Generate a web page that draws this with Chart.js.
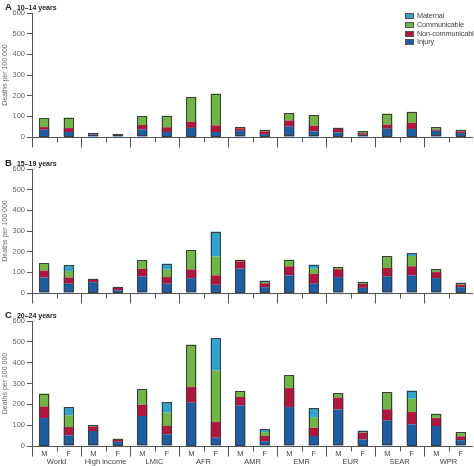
<!DOCTYPE html>
<html>
<head>
<meta charset="utf-8">
<script src="https://cdn.jsdelivr.net/npm/chart.js@4.4.1/dist/chart.umd.min.js"></script>
<style>
  body { margin: 0; background: #fff; font-family: 'Liberation Sans Narrow', 'Liberation Sans', sans-serif; }
  #wrap { position: relative; width: 474px; height: 466px; overflow: hidden; }
  .panel { position: absolute; left: 0; width: 474px; }
  .ttl { position: absolute; left: 5px; color: #222; font-weight: bold; white-space: nowrap; line-height: 9px; height: 9px; z-index: 2; }
  .ttl b { font-size: 9.5px; margin-right: 5px; }
  .ttl span { font-size: 7px; }
  #legend { position: absolute; left: 405px; top: 12px; font-size: 7.3px; color: #444; letter-spacing: -0.15px; }
  #legend div { height: 8.8px; line-height: 8.8px; white-space: nowrap; }
  #legend i { display: inline-block; width: 9px; height: 6px; border: 1px solid #555; margin-right: 3px; vertical-align: -1px; box-sizing: border-box; }
</style>
</head>
<body>
<div id="wrap">
  <div class="ttl" style="top:0px"><b>A</b><span>10–14 years</span></div>
  <div class="ttl" style="top:156px"><b>B</b><span>15–19 years</span></div>
  <div class="ttl" style="top:308px"><b>C</b><span>20–24 years</span></div>
  <div class="panel" style="top:0px;height:150px"><canvas id="chartA"></canvas></div>
  <div class="panel" style="top:156px;height:150px"><canvas id="chartB"></canvas></div>
  <div class="panel" style="top:308px;height:158px"><canvas id="chartC"></canvas></div>
  <div id="legend"></div>
</div>
<script>
// categories
const groups = ['World', 'High income', 'LMIC', 'AFR', 'AMR', 'EMR', 'EUR', 'SEAR', 'WPR'];
const sexes = ['M', 'F', 'M', 'F', 'M', 'F', 'M', 'F', 'M', 'F', 'M', 'F', 'M', 'F', 'M', 'F', 'M', 'F'];
const yTicks = [0, 100, 200, 300, 400, 500, 600];

// A: 10-14 years (deaths per 100 000)
const injuryA = [35, 24, 12, 7, 37, 24, 44, 24, 30, 14, 51, 27, 22, 11, 40, 39, 30, 19];
const ncdA = [13, 19, 6, 5, 21, 23, 30, 32, 12, 13, 29, 28, 18, 8, 20, 29, 6, 8];
const commA = [44, 51, 1, 1, 42, 56, 120, 154, 6, 8, 36, 50, 5, 8, 53, 54, 12, 8];
const maternalA = [0, 0, 0, 0, 0, 0, 0, 0, 0, 0, 0, 0, 0, 0, 0, 0, 0, 0];

// B: 15-19 years
const injuryB = [75, 45, 52, 13, 80, 45, 72, 40, 118, 28, 85, 45, 77, 25, 80, 85, 72, 28];
const ncdB = [33, 30, 14, 12, 37, 32, 42, 45, 35, 19, 44, 48, 38, 19, 41, 44, 29, 12];
const commB = [37, 31, 3, 5, 41, 36, 92, 92, 8, 8, 32, 24, 10, 10, 58, 50, 13, 8];
const maternalB = [0, 28, 0, 0, 0, 29, 0, 120, 0, 5, 0, 20, 0, 0, 0, 14, 0, 2];

// C: 20-24 years
const injuryC = [134, 51, 72, 20, 144, 56, 208, 40, 195, 23, 187, 48, 175, 31, 123, 104, 96, 28];
const ncdC = [56, 40, 22, 10, 54, 40, 75, 75, 40, 25, 91, 40, 57, 33, 53, 59, 38, 18];
const commC = [62, 56, 5, 5, 74, 64, 204, 248, 29, 19, 61, 48, 22, 8, 83, 64, 21, 16];
const maternalC = [0, 40, 0, 0, 0, 51, 0, 155, 0, 13, 0, 45, 0, 2, 0, 39, 0, 5];

const seriesNames = ['Injury', 'Non-communicable', 'Communicable', 'Maternal'];
const colors = ['#1b5ea6', '#b5143f', '#70b644', '#2ea4cf'];
const axisColor = '#555';
const font = "'Liberation Sans Narrow', 'Liberation Sans', sans-serif";

// legend (top one is Maternal)
const legend = document.getElementById('legend');
for (let i = seriesNames.length - 1; i >= 0; i--) {
  const row = document.createElement('div');
  row.innerHTML = `<i style="background:${colors[i]}"></i>${seriesNames[i]}`;
  legend.appendChild(row);
}

// tick marks under the x axis: short between M and F, long between groups
const xTickMarks = {
  id: 'xTickMarks',
  afterDraw(chart) {
    const xs = chart.scales.x;
    const ctx = chart.ctx;
    const n = sexes.length;
    const y0 = Math.round(chart.chartArea.bottom) + 0.5;
    ctx.save();
    ctx.strokeStyle = axisColor;
    ctx.lineWidth = 1;
    ctx.beginPath();
    ctx.moveTo(xs.left, y0);
    ctx.lineTo(xs.right, y0);
    for (let i = 0; i < n; i++) {
      const px = Math.round(xs.left + i * xs.width / n) + 0.5;
      ctx.moveTo(px, y0);
      ctx.lineTo(px, y0 + (i % 2 === 0 ? 10 : 5));
    }
    ctx.stroke();
    ctx.restore();
  }
};

// dark outline round each whole stack
const stackOutline = {
  id: 'stackOutline',
  afterDatasetsDraw(chart) {
    const metas = chart.getSortedVisibleDatasetMetas();
    const ctx = chart.ctx;
    ctx.save();
    ctx.strokeStyle = '#3d3d3d';
    ctx.lineWidth = 1;
    for (let i = 0; i < sexes.length; i++) {
      let top = Infinity, bottom = -Infinity, x = 0, w = 0;
      metas.forEach(m => {
        const el = m.data[i];
        if (!el) return;
        top = Math.min(top, el.y, el.base);
        bottom = Math.max(bottom, el.y, el.base);
        x = el.x;
        w = el.width;
      });
      if (bottom - top < 0.5) continue;
      ctx.strokeRect(Math.round(x - w / 2) + 0.5, Math.round(top) + 0.5, Math.round(w) - 1, Math.round(bottom - top) - 1);
    }
    ctx.restore();
  }
};

function makeChart(id, injury, ncd, comm, maternal, showLabels) {
  const values = [injury, ncd, comm, maternal];
  const scales = {
    x: {
      type: 'category',
      labels: sexes,
      stacked: true,
      offset: true,
      grid: { display: false, drawTicks: false },
      border: { display: false },
      ticks: { display: showLabels, padding: 3, color: '#444', font: { family: font, size: 7.5 }, maxRotation: 0, autoSkip: false },
      afterFit: s => { s.height = showLabels ? 10 : 13; }
    },
    y: {
      stacked: true,
      min: 0,
      max: 600,
      afterBuildTicks: s => { s.ticks = yTicks.map(v => ({ value: v })); },
      grid: { drawOnChartArea: false, tickLength: 5, color: axisColor },
      border: { display: true, color: axisColor },
      ticks: { padding: 2, color: '#666', font: { family: font, size: 7.5 } },
      title: { display: true, text: 'Deaths per 100 000', color: '#666', padding: { top: 1, bottom: 0 }, font: { family: font, size: 7 } },
      afterFit: s => { s.width = 32; }
    }
  };
  if (showLabels) {
    scales.x2 = {
      type: 'category',
      labels: groups,
      position: 'bottom',
      offset: true,
      grid: { display: false, drawTicks: false },
      border: { display: false },
      ticks: { padding: 1, color: '#444', font: { family: font, size: 7.5 }, maxRotation: 0, autoSkip: false },
      afterFit: s => { s.height = 10; }
    };
  }
  return new Chart(document.getElementById(id), {
    type: 'bar',
    data: {
      labels: sexes,
      datasets: values.map((v, k) => ({
        label: seriesNames[k],
        data: v,
        backgroundColor: colors[k],
        borderWidth: 0,
        categoryPercentage: 1,
        barPercentage: 0.42
      }))
    },
    options: {
      responsive: true,
      maintainAspectRatio: false,
      animation: false,
      layout: { padding: { top: 13, right: 1, left: 0, bottom: 0 } },
      plugins: { legend: { display: false }, tooltip: { enabled: false } },
      scales: scales
    },
    plugins: [stackOutline, xTickMarks]
  });
}

makeChart('chartA', injuryA, ncdA, commA, maternalA, false);
makeChart('chartB', injuryB, ncdB, commB, maternalB, false);
makeChart('chartC', injuryC, ncdC, commC, maternalC, true);
</script>
</body>
</html>
